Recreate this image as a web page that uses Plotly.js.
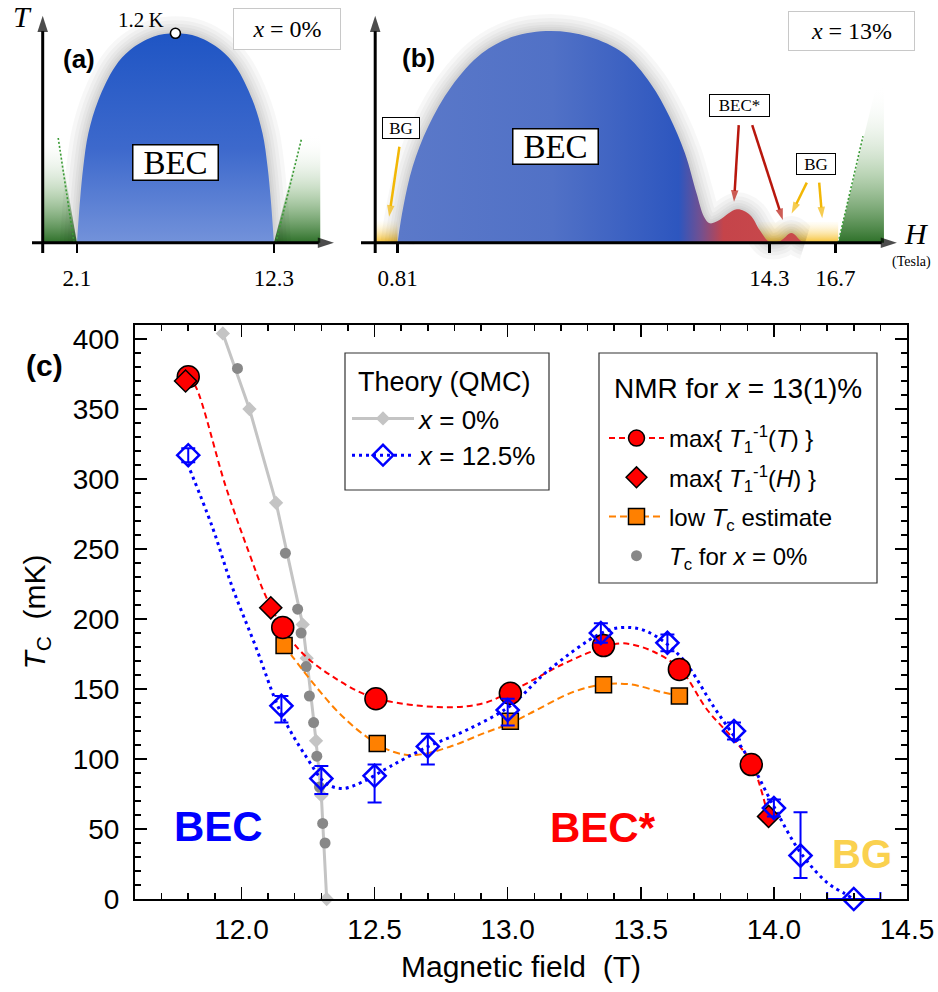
<!DOCTYPE html>
<html><head><meta charset="utf-8">
<script src="https://cdn.plot.ly/plotly-3.0.1.min.js"></script>
<style>html,body{margin:0;padding:0;background:#fff}#chart{width:938px;height:992px}</style>
</head><body><div id="chart"></div>
<script>
// ================= DATA =================
// ---- Panel (c): Tc vs magnetic field ----
const theory0_H  = [11.93, 12.03, 12.13, 12.23, 12.245, 12.28, 12.30, 12.32];
const theory0_Tc = [404, 350, 283, 196, 172, 113, 74, 0];

const tc0_H  = [11.985, 12.165, 12.211, 12.224, 12.243, 12.255, 12.271, 12.283, 12.293, 12.305, 12.314];
const tc0_Tc = [379, 247, 207, 190, 166, 145, 126, 102, 80, 54, 40];

const maxT_H  = [11.80, 12.155, 12.505, 13.01, 13.36, 13.645, 13.915];
const maxT_Tc = [373, 194, 143, 147, 181, 164, 96];

const maxH_H  = [11.79, 12.11, 13.98];
const maxH_Tc = [370, 208, 59];

const lowTc_H  = [12.16, 12.51, 13.01, 13.36, 13.645];
const lowTc_Tc = [181, 111, 127, 153, 145];

const qmc125_H      = [11.80, 12.15, 12.30, 12.50, 12.70, 13.00, 13.35, 13.60, 13.85, 14.00, 14.10];
const qmc125_Tc     = [317, 138, 86, 88, 109, 135, 190, 183, 120, 65, 31];
const qmc125_errUp  = [5, 7, 9, 8, 9, 8, 7, 6, 6, 6, 31];
const qmc125_errDn  = [5, 12, 11, 19, 13, 11, 7, 6, 6, 6, 16];
const qmc125end_H   = [14.30];
const qmc125end_Tc  = [0];
const qmc125end_errH = [0.1];

// guide-to-the-eye curves
const fitBlue_H  = [11.797, 11.89, 11.965, 12.054, 12.148, 12.243, 12.318, 12.381, 12.456, 12.557, 12.70, 12.846, 13.009, 13.147, 13.351, 13.436, 13.524, 13.65, 13.775, 13.901, 14.0, 14.102, 14.203, 14.265, 14.29];
const fitBlue_Tc = [311, 266, 223, 180, 133, 101.6, 82.6, 79, 83.8, 94.5, 108.8, 120.7, 137.9, 162.4, 189.8, 194, 191, 173, 137, 101.6, 66, 32.6, 11.2, 4, 1];
const fitRed_H   = [11.80, 11.828, 11.941, 12.029, 12.092, 12.167, 12.243, 12.343, 12.469, 12.594, 12.783, 12.909, 13.021, 13.21, 13.363, 13.436, 13.549, 13.65, 13.75, 13.851, 13.916, 13.976];
const fitRed_Tc  = [373, 366, 294.5, 247, 216, 190, 173, 158.8, 145.7, 139.8, 137, 139.8, 149, 168, 180, 182.6, 176.6, 163.6, 135, 113.6, 97, 61];
const fitOr_H    = [12.16, 12.192, 12.28, 12.368, 12.469, 12.569, 12.657, 12.783, 12.909, 13.009, 13.084, 13.248, 13.363, 13.461, 13.574, 13.645];
const fitOr_Tc   = [181, 173, 151.6, 132.6, 116, 105.2, 102.9, 108.8, 118.3, 125.5, 132.6, 148, 153.3, 153.3, 148, 145];

const xTickVals = [12.0, 12.5, 13.0, 13.5, 14.0, 14.5];

// ---- Panel (a): schematic x = 0%  (H in tesla, T in kelvin) ----
const domeA_H = [2.1, 2.26, 2.43, 2.69, 3.21, 4.07, 4.85, 6.05, 7.2, 8.35, 9.55, 10.33, 11.19, 11.71, 11.97, 12.14, 12.3];
const domeA_T = [0, 0.245, 0.436, 0.627, 0.818, 1.009, 1.104, 1.18, 1.2, 1.18, 1.104, 1.009, 0.818, 0.627, 0.436, 0.245, 0];
const peakA_H = [7.2], peakA_T = [1.2];
const greenAL_H = [0.33, 2.1, 1.13, 0.33], greenAL_T = [0, 0, 0.62, 0.62];
const greenAR_H = [12.3, 14.7, 14.7, 13.74], greenAR_T = [0, 0, 0.62, 0.62];
const dotAL_H = [1.95, 1.13], dotAL_T = [0, 0.6];
const dotAR_H = [12.4, 13.74], dotAR_T = [0, 0.6];
const axisA_Hv = [0.326, 0.326], axisA_Tv = [-0.059, 1.30];
const axisA_Hh = [-0.228, 15.41], axisA_Th = [0, 0];
const ticksA = [2.1, 12.3];
const ticksA_text = ['2.1', '12.3'];

// ---- Panel (b): schematic x = 13% ----
const domeB_H = [0.81, 1.02, 1.36, 1.92, 2.76, 3.87, 4.98, 6.37, 7.76, 9.01, 9.99, 10.68, 11.24, 11.66, 11.93, 12.14, 12.49, 13.12, 13.6, 13.95, 14.3, 14.7, 15.1, 15.45, 15.6];
const domeB_T = [0, 0.206, 0.436, 0.665, 0.894, 1.085, 1.18, 1.213, 1.18, 1.085, 0.913, 0.722, 0.512, 0.283, 0.149, 0.111, 0.13, 0.191, 0.159, 0.073, 0.005, 0.01, 0.055, 0.01, 0];
const bgL_H = [0, 0.81, 0.81, 0], bgL_T = [0, 0, 0.13, 0.13];
const bgR_H = [13.9, 16.8, 16.8, 13.9], bgR_T = [0, 0, 0.12, 0.12];
const greenB_H = [16.8, 18.46, 18.46, 18.18], greenB_T = [0, 0, 0.9, 0.9];
const dotB_H = [16.8, 17.7], dotB_T = [0, 0.61];
const axisB_Hv = [0, 0], axisB_Tv = [-0.059, 1.30];
const axisB_Hh = [-0.515, 18.93], axisB_Th = [0, 0];
// pointer arrows [tail, head]
const arrBGl_H = [0.878, 0.504],   arrBGl_T = [0.550, 0.149];
const arrBE1_H = [13.19, 13.02],   arrBE1_T = [0.674, 0.235];
const arrBE2_H = [13.68, 14.79],   arrBE2_T = [0.674, 0.130];
const arrBG1_H = [15.66, 15.11],   arrBG1_T = [0.344, 0.168];
const arrBG2_H = [16.11, 16.22],   arrBG2_T = [0.344, 0.140];
const ticksB = [0.81, 14.3, 16.7];
const ticksB_text = ['0.81', '14.3', '16.7'];

// ================= HELPERS =================
const W = 938, HH = 992;
const PX = p => p / W, PY = p => 1 - p / HH;
const SANS = 'Liberation Sans, Arial, sans-serif';
const SERIF = 'Liberation Serif, DejaVu Serif, serif';
const A_X0 = 36.4, A_K = 19.31, B_X0 = 375.2, B_K = 27.56, BASE = 242.7, TK = 174.5;

const traces = [];
function poly(xs, ys, xa, ya, grad) {
  traces.push({x: xs, y: ys, xaxis: xa, yaxis: ya, mode: 'lines', fill: 'toself',
    line: {width: 0}, fillgradient: grad, showlegend: false, hoverinfo: 'skip'});
}
function halo(xs, ys, xa, ya) {
  [34, 26, 19, 13, 8, 4].forEach(w => traces.push({x: xs, y: ys, xaxis: xa, yaxis: ya,
    mode: 'lines', line: {width: w, color: 'rgba(0,0,0,0.032)', shape: 'spline'}, showlegend: false, hoverinfo: 'skip'}));
}
function arrowTrace(xs, ys, xa, ya, color, width, head) {
  traces.push({x: xs, y: ys, xaxis: xa, yaxis: ya, mode: 'lines+markers', cliponaxis: false,
    line: {color: color, width: width},
    marker: {symbol: ['circle', 'arrow'], size: [0, head], color: color, angleref: 'previous', line: {width: 0}},
    showlegend: false, hoverinfo: 'skip'});
}
const greenGrad = stop => ({type: 'vertical', start: 0, stop: stop,
  colorscale: [[0, 'rgba(35,105,30,0.95)'], [0.45, 'rgba(110,165,100,0.45)'], [1, 'rgba(255,255,255,0)']]});
const yellowGrad = {type: 'vertical', start: 0, stop: 0.13,
  colorscale: [[0, 'rgba(245,188,35,0.95)'], [1, 'rgba(255,240,190,0)']]};

// ---- panel (a) traces ----
poly(greenAL_H, greenAL_T, 'x2', 'y2', greenGrad(0.62));
poly(greenAR_H, greenAR_T, 'x2', 'y2', greenGrad(0.62));
halo(domeA_H, domeA_T, 'x2', 'y2');
traces.push({x: domeA_H, y: domeA_T, xaxis: 'x2', yaxis: 'y2', mode: 'lines', fill: 'toself',
  line: {width: 0, shape: 'spline'}, showlegend: false, hoverinfo: 'skip',
  fillgradient: {type: 'vertical', start: 0, stop: 1.2, colorscale: [[0, '#7392da'], [0.45, '#3d69cc'], [1, '#1f55c4']]}});
[[dotAL_H, dotAL_T], [dotAR_H, dotAR_T]].forEach(([a, b]) => traces.push({x: a, y: b, xaxis: 'x2', yaxis: 'y2', mode: 'lines',
  line: {color: '#3a9a35', width: 1.6, dash: '2px,2px'}, showlegend: false, hoverinfo: 'skip'}));
arrowTrace(axisA_Hv, axisA_Tv, 'x2', 'y2', '#000', 3, 17);
arrowTrace(axisA_Hh, axisA_Th, 'x2', 'y2', '#000', 3, 17);
traces.push({x: peakA_H, y: peakA_T, xaxis: 'x2', yaxis: 'y2', mode: 'markers', cliponaxis: false,
  marker: {symbol: 'circle', size: 10, color: '#fff', line: {color: '#000', width: 1.6}}, showlegend: false, hoverinfo: 'skip'});

// ---- panel (b) traces ----
poly(bgL_H, bgL_T, 'x3', 'y3', yellowGrad);
poly(bgR_H, bgR_T, 'x3', 'y3', yellowGrad);
poly(greenB_H, greenB_T, 'x3', 'y3', greenGrad(0.9));
halo(domeB_H, domeB_T, 'x3', 'y3');
traces.push({x: domeB_H, y: domeB_T, xaxis: 'x3', yaxis: 'y3', mode: 'lines', fill: 'toself',
  line: {width: 0, shape: 'spline'}, showlegend: false, hoverinfo: 'skip',
  fillgradient: {type: 'horizontal', start: 0.81, stop: 15.6,
    colorscale: [[0, '#5b79c9'], [0.38, '#5171c6'], [0.69, '#2d56bf'], [0.745, '#74508f'], [0.8, '#c5444a'], [1, '#c94a4c']]}});
traces.push({x: dotB_H, y: dotB_T, xaxis: 'x3', yaxis: 'y3', mode: 'lines',
  line: {color: '#3a9a35', width: 1.6, dash: '2px,2px'}, showlegend: false, hoverinfo: 'skip'});
arrowTrace(axisB_Hv, axisB_Tv, 'x3', 'y3', '#000', 3, 17);
arrowTrace(axisB_Hh, axisB_Th, 'x3', 'y3', '#000', 3, 17);
arrowTrace(arrBGl_H, arrBGl_T, 'x3', 'y3', '#f2b705', 2.5, 12);
arrowTrace(arrBE1_H, arrBE1_T, 'x3', 'y3', '#b8170d', 2.5, 12);
arrowTrace(arrBE2_H, arrBE2_T, 'x3', 'y3', '#b8170d', 2.5, 12);
arrowTrace(arrBG1_H, arrBG1_T, 'x3', 'y3', '#f2b705', 2.5, 12);
arrowTrace(arrBG2_H, arrBG2_T, 'x3', 'y3', '#f2b705', 2.5, 12);

// ---- panel (c) traces ----
traces.push({name: '<i>x</i> = 0%', x: theory0_H, y: theory0_Tc, mode: 'lines+markers', cliponaxis: false,
  line: {color: '#c4c4c4', width: 3}, marker: {symbol: 'diamond', size: 11, color: '#c4c4c4'},
  legend: 'legend', legendrank: 1});
traces.push({name: '<i>T</i><sub>c</sub> for <i>x</i> = 0%', x: tc0_H, y: tc0_Tc, mode: 'markers',
  marker: {symbol: 'circle', size: 11, color: '#888888'}, legend: 'legend2', legendgroup: 'n4', legendrank: 4});
traces.push({x: fitOr_H, y: fitOr_Tc, mode: 'lines', line: {color: '#ff8000', width: 2, dash: '7px,4px', shape: 'spline'}, showlegend: false});
traces.push({x: fitRed_H, y: fitRed_Tc, mode: 'lines', line: {color: '#ff0000', width: 2, dash: '6px,4px', shape: 'spline'}, showlegend: false});
traces.push({x: fitBlue_H, y: fitBlue_Tc, mode: 'lines', line: {color: '#0000ff', width: 3, dash: '3px,4px', shape: 'spline'}, showlegend: false});
traces.push({x: lowTc_H, y: lowTc_Tc, mode: 'markers', showlegend: false,
  marker: {symbol: 'square', size: 16, color: '#ff8000', line: {color: '#000', width: 1.5}}});
traces.push({x: maxT_H, y: maxT_Tc, mode: 'markers', showlegend: false,
  marker: {symbol: 'circle', size: 22, color: '#ff0000', line: {color: '#000', width: 1.5}}});
traces.push({name: 'max{ <i>T</i><sub>1</sub><sup>-1</sup>(<i>H</i>) }', x: maxH_H, y: maxH_Tc, mode: 'markers',
  marker: {symbol: 'diamond', size: 17, color: '#ff0000', line: {color: '#000', width: 1.5}},
  legend: 'legend2', legendgroup: 'n2', legendrank: 2});
traces.push({x: qmc125_H, y: qmc125_Tc, mode: 'markers', showlegend: false,
  marker: {symbol: 'diamond-open', size: 17, color: '#0000ff', line: {color: '#0000ff', width: 2.5}},
  error_y: {type: 'data', symmetric: false, array: qmc125_errUp, arrayminus: qmc125_errDn, color: '#0000ff', thickness: 2, width: 7}});
traces.push({x: qmc125end_H, y: qmc125end_Tc, mode: 'markers', showlegend: false, cliponaxis: false,
  marker: {symbol: 'diamond-open', size: 17, color: '#0000ff', line: {color: '#0000ff', width: 2.5}},
  error_x: {type: 'data', array: qmc125end_errH, color: '#0000ff', thickness: 2, width: 7}});
// legend-only entries (no data)
traces.push({name: '<i>x</i> = 12.5%', x: [null], y: [null], mode: 'lines+markers',
  line: {color: '#0000ff', width: 3, dash: '3px,4px'}, marker: {symbol: 'diamond-open', size: 17, color: '#0000ff', line: {color: '#0000ff', width: 2.5}},
  legend: 'legend', legendrank: 2});
traces.push({name: 'max{ <i>T</i><sub>1</sub><sup>-1</sup>(<i>T</i>) }', x: [null], y: [null], mode: 'lines+markers',
  line: {color: '#ff0000', width: 2, dash: '6px,4px'}, marker: {symbol: 'circle', size: 22, color: '#ff0000', line: {color: '#000', width: 1.5}},
  legend: 'legend2', legendgroup: 'n1', legendrank: 1});
traces.push({name: 'low <i>T</i><sub>c</sub> estimate', x: [null], y: [null], mode: 'lines+markers',
  line: {color: '#ff8000', width: 2, dash: '7px,4px'}, marker: {symbol: 'square', size: 16, color: '#ff8000', line: {color: '#000', width: 1.5}},
  legend: 'legend2', legendgroup: 'n3', legendrank: 3});

// ================= ANNOTATIONS & FRAMES =================
const ann = [];
function label(cx, cy, text, font, extra) {
  ann.push(Object.assign({xref: 'paper', yref: 'paper', x: PX(cx), y: PY(cy), xanchor: 'center', yanchor: 'middle',
    text: text, font: font, showarrow: false}, extra || {}));
}
// panel (a)
label(22, 17, '<i>T</i>', {family: SERIF, size: 30, color: '#000'});
label(141, 20, '1.2\u2009K', {family: SERIF, size: 21, color: '#000'});
label(79, 59, '<b>(a)</b>', {family: SANS, size: 26, color: '#000'});
label(286.5, 29, '<i>x</i> = 0%', {family: SERIF, size: 24, color: '#000'},
  {bgcolor: '#fff', bordercolor: '#c8c8c8', borderwidth: 1, borderpad: 6, width: 94, height: 28});
label(175, 162.5, 'BEC', {family: SERIF, size: 33, color: '#000'},
  {bgcolor: '#fff', bordercolor: '#000', borderwidth: 1.5, borderpad: 3, width: 78, height: 28});
// panel (b)
label(418.6, 58.3, '<b>(b)</b>', {family: SANS, size: 26, color: '#000'});
label(851.7, 31, '<i>x</i> = 13%', {family: SERIF, size: 24, color: '#000'},
  {bgcolor: '#fff', bordercolor: '#c8c8c8', borderwidth: 1, borderpad: 6, width: 113, height: 26});
label(555, 146, 'BEC', {family: SERIF, size: 33, color: '#000'},
  {bgcolor: '#fff', bordercolor: '#000', borderwidth: 1.5, borderpad: 3, width: 78, height: 28});
label(401, 127.5, 'BG', {family: SERIF, size: 17, color: '#000'},
  {bgcolor: '#fff', bordercolor: '#000', borderwidth: 1, borderpad: 2, width: 32, height: 16});
label(739.7, 106, 'BEC*', {family: SERIF, size: 17, color: '#000'},
  {bgcolor: '#fff', bordercolor: '#000', borderwidth: 1, borderpad: 2, width: 55, height: 17});
label(816, 164.5, 'BG', {family: SERIF, size: 17, color: '#000'},
  {bgcolor: '#fff', bordercolor: '#000', borderwidth: 1, borderpad: 2, width: 34, height: 16});
label(916.8, 233, '<i>H</i>', {family: SERIF, size: 30, color: '#000'});
label(911, 262, '(Tesla)', {family: SERIF, size: 14, color: '#000'});
// panel (c)
label(44, 366, '<b>(c)</b>', {family: SANS, size: 30, color: '#000'});
label(218, 826, '<b>BEC</b>', {family: SANS, size: 42, color: '#0000ff'});
label(603, 827, '<b>BEC*</b>', {family: SANS, size: 42, color: '#ff0000'});
label(862, 854, '<b>BG</b>', {family: SANS, size: 40, color: '#fad14f'});
// legend headings
ann.push({xref: 'paper', yref: 'paper', x: PX(356), y: PY(382), xanchor: 'left', yanchor: 'middle', showarrow: false,
  text: 'Theory (QMC)', font: {family: SANS, size: 27, color: '#000'}});
ann.push({xref: 'paper', yref: 'paper', x: PX(612), y: PY(388), xanchor: 'left', yanchor: 'middle', showarrow: false,
  text: 'NMR for <i>x</i> = 13(1)%', font: {family: SANS, size: 28, color: '#000'}});
const shapes = [
  {type: 'rect', xref: 'paper', yref: 'paper', x0: PX(345), x1: PX(549), y0: PY(490), y1: PY(353),
    line: {color: '#333', width: 1.2}, fillcolor: '#fff', layer: 'below'},
  {type: 'rect', xref: 'paper', yref: 'paper', x0: PX(599), x1: PX(877), y0: PY(583), y1: PY(353),
    line: {color: '#333', width: 1.2}, fillcolor: '#fff', layer: 'below'}
];

// ================= LAYOUT =================
const schemX = (dom, rng, vals, text) => ({domain: dom, range: rng, anchor: 'free', position: PY(BASE), tickvals: vals, ticktext: text,
  ticks: 'outside', ticklen: 9, tickwidth: 2.5, tickcolor: '#000', showline: false, showgrid: false, zeroline: false,
  tickfont: {family: SERIF, size: 23, color: '#000'}, ticklabelstandoff: 6, automargin: false, fixedrange: true});
const schemXup = (dom, rng, over, vals) => ({domain: dom, range: rng, anchor: 'free', position: PY(BASE), overlaying: over, tickvals: vals,
  ticks: 'inside', ticklen: 9, tickwidth: 2.5, tickcolor: '#000', showticklabels: false, showline: false, showgrid: false, zeroline: false});
const schemY = {domain: [PY(290), 1], range: [(BASE - 290) / TK, BASE / TK], visible: false, fixedrange: true};
const rangeA = [(0 - A_X0) / A_K, (340 - A_X0) / A_K];
const rangeB = [(340 - B_X0) / B_K, (938 - B_X0) / B_K];
const domA = [0, PX(340)], domB = [PX(340), 1];

const layout = {
  width: W, height: HH, margin: {l: 0, r: 0, t: 0, b: 0}, paper_bgcolor: '#fff', plot_bgcolor: 'rgba(0,0,0,0)',
  hovermode: false, showlegend: true,
  xaxis: {domain: [PX(135), PX(907)], range: [11.6, 14.5], anchor: 'y', tickvals: xTickVals, tickformat: '.1f',
    ticks: 'inside', ticklen: 12, tickwidth: 1.5, tickcolor: '#000', mirror: 'allticks', showline: true, linewidth: 2, linecolor: '#000',
    showgrid: false, zeroline: false, minor: {dtick: 0.1, tick0: 0, ticks: 'inside', ticklen: 6, tickwidth: 1.5, tickcolor: '#000'},
    tickfont: {family: SANS, size: 28, color: '#000'}, ticklabelstandoff: 4, automargin: false,
    title: {text: 'Magnetic field\u00a0\u00a0(T)', font: {family: SANS, size: 30, color: '#000'}, standoff: 12}},
  yaxis: {domain: [PY(899), PY(325)], range: [0, 410], anchor: 'x', tick0: 0, dtick: 50,
    ticks: 'inside', ticklen: 12, tickwidth: 1.5, tickcolor: '#000', mirror: 'allticks', showline: true, linewidth: 2, linecolor: '#000',
    showgrid: false, zeroline: false, minor: {dtick: 10, ticks: 'inside', ticklen: 6, tickwidth: 1.5, tickcolor: '#000'},
    tickfont: {family: SANS, size: 28, color: '#000'}, ticklabelstandoff: 8, automargin: false,
    title: {text: '<i>T</i><sub>C</sub>\u00a0\u00a0(mK)', font: {family: SANS, size: 30, color: '#000'}, standoff: 18}},
  xaxis2: schemX(domA, rangeA, ticksA, ticksA_text),
  xaxis4: schemXup(domA, rangeA, 'x2', ticksA),
  yaxis2: Object.assign({anchor: 'x2'}, schemY),
  xaxis3: schemX(domB, rangeB, ticksB, ticksB_text),
  xaxis5: schemXup(domB, rangeB, 'x3', ticksB),
  yaxis3: Object.assign({anchor: 'x3'}, schemY),
  legend: {x: PX(347), y: PY(395), xanchor: 'left', yanchor: 'top', bgcolor: 'rgba(0,0,0,0)', borderwidth: 0,
    font: {family: SANS, size: 26, color: '#000'}, itemwidth: 62, traceorder: 'normal', itemsizing: 'trace'},
  legend2: {x: PX(604), y: PY(416), xanchor: 'left', yanchor: 'top', bgcolor: 'rgba(0,0,0,0)', borderwidth: 0,
    font: {family: SANS, size: 24, color: '#000'}, itemwidth: 55, tracegroupgap: 5, traceorder: 'grouped', itemsizing: 'trace'},
  annotations: ann,
  shapes: shapes
};
Plotly.newPlot('chart', traces, layout, {displayModeBar: false, staticPlot: true});
</script></body></html>
